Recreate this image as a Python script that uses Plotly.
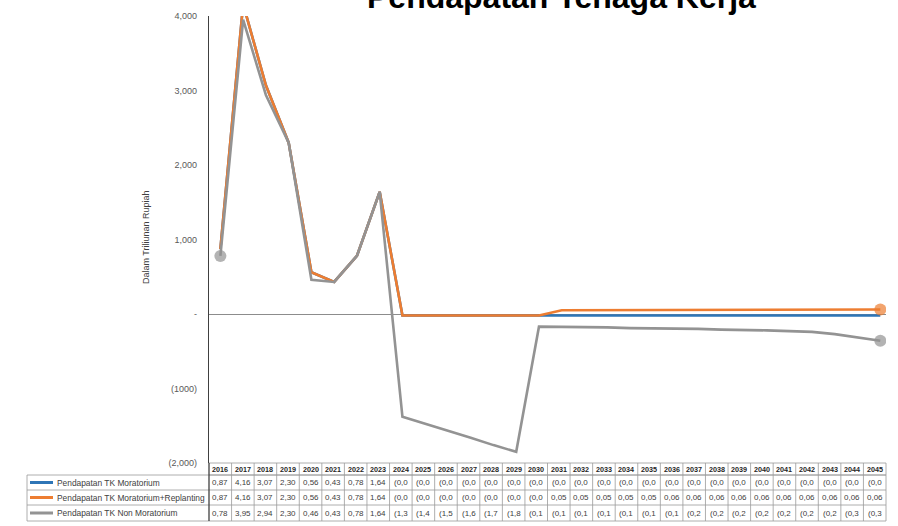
import plotly.graph_objects as go

# Pendapatan tenaga kerja per skenario (triliun rupiah, nilai tabel)
years = [2016, 2017, 2018, 2019, 2020, 2021, 2022, 2023, 2024, 2025,
         2026, 2027, 2028, 2029, 2030, 2031, 2032, 2033, 2034, 2035,
         2036, 2037, 2038, 2039, 2040, 2041, 2042, 2043, 2044, 2045]

moratorium = [0.87, 4.16, 3.07, 2.30, 0.56, 0.43, 0.78, 1.64, -0.02, -0.02,
              -0.02, -0.02, -0.02, -0.02, -0.02, -0.02, -0.02, -0.02, -0.02, -0.02,
              -0.02, -0.02, -0.02, -0.02, -0.02, -0.02, -0.02, -0.02, -0.02, -0.02]

replanting = [0.87, 4.16, 3.07, 2.30, 0.56, 0.43, 0.78, 1.64, -0.02, -0.02,
              -0.02, -0.02, -0.02, -0.02, -0.02, 0.05, 0.05, 0.05, 0.05, 0.05,
              0.06, 0.06, 0.06, 0.06, 0.06, 0.06, 0.06, 0.06, 0.06, 0.06]

non_moratorium = [0.78, 3.95, 2.94, 2.30, 0.46, 0.43, 0.78, 1.64, -1.38, -1.47,
                  -1.57, -1.66, -1.76, -1.85, -0.17, -0.17, -0.18, -0.18, -0.19, -0.19,
                  -0.19, -0.20, -0.21, -0.21, -0.22, -0.23, -0.24, -0.27, -0.31, -0.36]

series_names = ["Pendapatan TK Moratorium",
                "Pendapatan TK Moratorium+Replanting",
                "Pendapatan TK Non Moratorium"]
series_values = [moratorium, replanting, non_moratorium]
series_colors = ["#2E75B6", "#ED7D31", "#939393"]

y_tickvals = [4000, 3000, 2000, 1000, 0, -1000, -2000]
y_ticktext = ["4,000", "3,000", "2,000", "1,000", "-", "(1000)", "(2,000)"]

title_text = "Pendapatan Tenaga Kerja"
y_title = "Dalam Triliunan Rupiah"

# ---- page geometry (pixels) ----
W, H = 898, 526
PL, PR, PT, PB = 209, 886, 16, 463
PW, PH = PR - PL, PB - PT
FONT = "Arial, Liberation Sans, sans-serif"


def px(x):
    return (x - PL) / PW


def py(y):
    return (PB - y) / PH


def cell_text(v):
    s = f"{v:.2f}".replace(".", ",") if v >= 0 else f"({abs(v):.2f})".replace(".", ",")
    return s[:4]


fig = go.Figure()

# lines: blue under orange, grey on top; end markers where drawn
marker_sizes = [
    [0] * len(years),
    [0] * (len(years) - 1) + [12],
    [12] + [0] * (len(years) - 2) + [12],
]
for name, vals, col, ms in zip(series_names, series_values, series_colors, marker_sizes):
    fig.add_trace(go.Scatter(
        x=years, y=[v * 1000 for v in vals], name=name, mode="lines+markers",
        line=dict(color=col, width=2.6),
        marker=dict(color=col, size=ms, line=dict(width=0)),
        showlegend=False, hoverinfo="skip",
    ))

shapes = []
annotations = []

# data table under the plot
ncol = len(years)
cw = PW / ncol
hdr_top, hdr_bot = 463, 475
row_bounds = [475, 490, 505, 521]
leg_left = 27
grid = "#9a9a9a"


def hline(x0, x1, y, color=grid, width=0.8):
    shapes.append(dict(type="line", xref="paper", yref="paper",
                       x0=px(x0), x1=px(x1), y0=py(y), y1=py(y),
                       line=dict(color=color, width=width)))


def vline(x, y0, y1, color=grid, width=0.8):
    shapes.append(dict(type="line", xref="paper", yref="paper",
                       x0=px(x), x1=px(x), y0=py(y0), y1=py(y1),
                       line=dict(color=color, width=width)))


hline(PL, PR, hdr_top)
hline(PL, PR, hdr_bot)
for yb in row_bounds:
    hline(leg_left, PR, yb)
vline(leg_left, row_bounds[0], row_bounds[-1])
for i in range(1, ncol):
    vline(PL + i * cw, hdr_top, row_bounds[-1])
vline(PR, hdr_top, row_bounds[-1])
vline(PL, hdr_top, row_bounds[-1], color="#404040", width=1.3)

for i, yr in enumerate(years):
    annotations.append(dict(
        x=px(PL + (i + 0.5) * cw), y=py((hdr_top + hdr_bot) / 2),
        xref="paper", yref="paper", text=f"<b>{yr}</b>", showarrow=False,
        font=dict(family=FONT, size=7.2, color="#262626"),
        xanchor="center", yanchor="middle"))

for r, (name, vals, col) in enumerate(zip(series_names, series_values, series_colors)):
    yc = (row_bounds[r] + row_bounds[r + 1]) / 2
    shapes.append(dict(type="line", xref="paper", yref="paper",
                       x0=px(30), x1=px(53), y0=py(yc), y1=py(yc),
                       line=dict(color=col, width=3)))
    annotations.append(dict(
        x=px(55), y=py(yc), xref="paper", yref="paper", text=name,
        showarrow=False, font=dict(family=FONT, size=8.4, color="#404040"),
        xanchor="left", yanchor="middle"))
    for i, v in enumerate(vals):
        annotations.append(dict(
            x=px(PL + (i + 0.5) * cw), y=py(yc), xref="paper", yref="paper",
            text=cell_text(v), showarrow=False,
            font=dict(family=FONT, size=8, color="#404040"),
            xanchor="center", yanchor="middle"))

# axis title and chart title
annotations.append(dict(
    x=px(146), y=py(237), xref="paper", yref="paper", text=y_title,
    showarrow=False, textangle=-90,
    font=dict(family=FONT, size=9, color="#404040"),
    xanchor="center", yanchor="middle"))
annotations.append(dict(
    x=px(561), y=py(-3), xref="paper", yref="paper", text=f"<b>{title_text}</b>",
    showarrow=False, font=dict(family=FONT, size=32, color="#000000"),
    xanchor="center", yanchor="middle"))

fig.update_layout(
    width=W, height=H,
    margin=dict(l=PL, r=W - PR, t=PT, b=H - PB, pad=0),
    paper_bgcolor="white", plot_bgcolor="white",
    shapes=shapes, annotations=annotations,
    xaxis=dict(range=[2015.5, 2045.25], showticklabels=False, showgrid=False,
               zeroline=False, showline=False, ticks=""),
    yaxis=dict(range=[-2000, 4000], tickvals=y_tickvals, ticktext=y_ticktext,
               showgrid=False, zeroline=True, zerolinecolor="#8c8c8c",
               zerolinewidth=1, showline=True, linecolor="#404040", linewidth=1.3,
               ticks="", ticklabelstandoff=9,
               tickfont=dict(family=FONT, size=9, color="#595959")),
)

fig.write_html("out.html")
